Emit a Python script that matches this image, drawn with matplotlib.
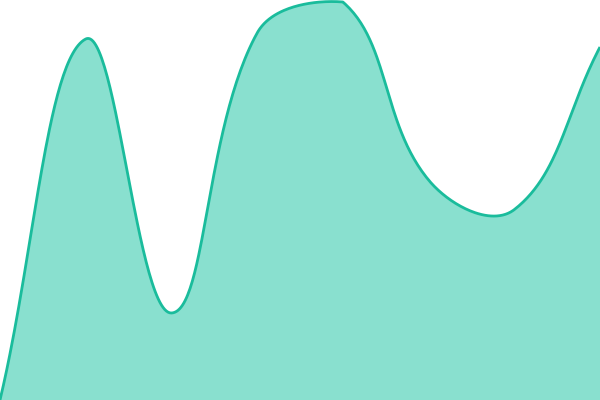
import numpy as np
import matplotlib
matplotlib.use("Agg")
import matplotlib.pyplot as plt

# valores da série (escala 0-100), 8 pontos igualmente espaçados
labels = ["1", "2", "3", "4", "5", "6", "7", "8"]
values = [0, 90.25, 21.75, 91.75, 99.5, 55, 47.6, 88.25]

W, H = 600, 400
tension = 0.4

fig = plt.figure(figsize=(6, 4), dpi=100)
ax = fig.add_axes([0, 0, 1, 1])
ax.set_xlim(0, len(values) - 1)
ax.set_ylim(0, 100)
ax.axis("off")

# pontos em pixels (para a curva spline no estilo Chart.js)
xs = np.arange(len(values), dtype=float)
pts = ax.transData.transform(np.column_stack([xs, values]))


def control_points(p):
    n = len(p)
    cps = []
    for i in range(n):
        prev = p[i - 1] if i > 0 else p[i]
        cur = p[i]
        nxt = p[i + 1] if i < n - 1 else p[i]
        d01 = np.hypot(*(cur - prev))
        d12 = np.hypot(*(nxt - cur))
        tot = d01 + d12
        s01 = d01 / tot if tot else 0
        s12 = d12 / tot if tot else 0
        fa, fb = tension * s01, tension * s12
        before = cur - fa * (nxt - prev)
        after = cur + fb * (nxt - prev)
        # limita os pontos de controle à área do gráfico
        lo, hi = np.array([0, 0]), np.array([W, H])
        cps.append((np.clip(before, lo, hi), np.clip(after, lo, hi)))
    return cps


cps = control_points(pts)
t = np.linspace(0, 1, 60)[:, None]
curve = []
for i in range(len(pts) - 1):
    p0, p3 = pts[i], pts[i + 1]
    p1, p2 = cps[i][1], cps[i + 1][0]
    seg = (1 - t) ** 3 * p0 + 3 * (1 - t) ** 2 * t * p1 + 3 * (1 - t) * t ** 2 * p2 + t ** 3 * p3
    curve.append(seg if i == 0 else seg[1:])
curve = np.vstack(curve)
cx, cy = ax.transData.inverted().transform(curve).T

ax.fill_between(cx, cy, 0, color="#89e0cf", linewidth=0)
ax.plot(cx, cy, color="#1abc9c", linewidth=2.0, solid_capstyle="butt")

fig.savefig("out.png", dpi=100)
